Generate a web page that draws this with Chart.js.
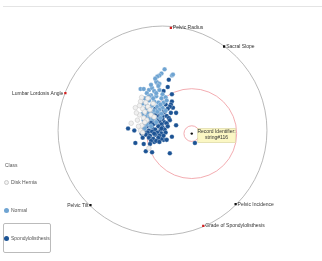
<!DOCTYPE html>
<html lang="en">
<head>
    <meta charset="UTF-8">
    <title>RadViz - vertebral column</title>
    <style>
        body {
            margin: 0;
            padding: 0;
            background: #fff;
            font-family: Arial, "Liberation Sans", sans-serif;
        }
        #wrap {
            position: relative;
            width: 322px;
            height: 261px;
            overflow: hidden;
        }
        #topline {
            position: absolute;
            left: 3px;
            right: 0;
            top: 6px;
            height: 1px;
            background: #e4e4e4;
        }
        .legend-title {
            position: absolute;
            left: 5px;
            top: 162px;
            font-size: 5px;
            color: #555;
        }
        .legend-item {
            position: absolute;
            left: 4px;
            height: 8px;
            font-size: 5px;
            line-height: 8px;
            color: #555;
            white-space: nowrap;
        }
        .legend-item .dot {
            display: inline-block;
            width: 5px;
            height: 5px;
            border-radius: 50%;
            vertical-align: middle;
            margin-right: 2px;
            box-sizing: border-box;
        }
        .legend-item.active {
            border: 1px solid #bbb;
            border-radius: 2px;
            width: 46px;
            height: 28px;
            line-height: 28px;
            left: 3px;
        }
    </style>
    <script src="https://cdn.jsdelivr.net/npm/chart.js"></script>
</head>
<body>
<div id="wrap">
    <div id="topline"></div>
    <canvas id="radviz" width="322" height="261"></canvas>
    <div class="legend-title">Class</div>
    <div class="legend-item" style="top:178px"><span class="dot" style="background:#f2f2f2;border:0.6px solid #c8c8c8"></span>Disk Hernia</div>
    <div class="legend-item" style="top:206px"><span class="dot" style="background:#6fa4d2"></span>Normal</div>
    <div class="legend-item active" style="top:223px"><span class="dot" style="background:#1c5394"></span>Spondylolisthesis</div>
</div>
<script>
    // dimension anchors on the unit circle
    const anchorNames = ['Pelvic Radius', 'Sacral Slope', 'Lumbar Lordosis Angle', 'Pelvic Tilt', 'Pelvic Incidence', 'Grade of Spondylolisthesis'];
    const anchorX = [0.08, 0.59, -0.93, -0.69, 0.70, 0.39];
    const anchorY = [0.99, 0.81, 0.36, -0.72, -0.71, -0.92];
    const anchorColors = ['#d42020', '#111111', '#d42020', '#111111', '#111111', '#d42020'];

    // projected records, one pair of arrays per class
    const herniaX = [-0.26, -0.30, -0.13, -0.21, -0.22, -0.19, -0.24, -0.20, -0.17, -0.14, -0.21, -0.16, -0.18, -0.23, -0.19, -0.12, -0.09, -0.15, -0.20, -0.14, -0.11, -0.25, -0.08, -0.17, -0.22];
    const herniaY = [0.22, 0.07, -0.17, 0.00, 0.15, 0.21, 0.10, 0.05, 0.18, 0.23, 0.28, 0.27, 0.12, 0.04, -0.02, 0.20, 0.26, 0.10, 0.32, 0.31, 0.15, 0.17, 0.13, 0.08, 0.24];

    const normalX = [0.02, -0.01, -0.03, -0.05, 0.09, 0.10, -0.06, -0.03, -0.21, -0.18, -0.13, -0.10, -0.11, -0.07,
        -0.08, -0.03, 0.00, -0.15, -0.11, -0.06, -0.01, 0.03,
        -0.17, -0.13, -0.08, -0.04, 0.01,
        -0.19, -0.15, -0.10, -0.05, 0.00, 0.04,
        -0.17, -0.12, -0.08, -0.03, 0.03,
        -0.19, -0.14, -0.10, -0.05, -0.01,
        -0.16, -0.12, -0.07, -0.02,
        -0.18, -0.13, -0.09, -0.15, -0.11, -0.06, -0.17,
        -0.09, -0.13, -0.02, -0.06, -0.16, -0.04];
    const normalY = [0.59, 0.55, 0.53, 0.52, 0.53, 0.54, 0.47, 0.45, 0.40, 0.40, 0.39, 0.41, 0.44, 0.50,
        0.38, 0.39, 0.35, 0.36, 0.34, 0.33, 0.31, 0.32,
        0.31, 0.29, 0.28, 0.27, 0.27,
        0.26, 0.24, 0.24, 0.23, 0.22, 0.29,
        0.20, 0.21, 0.19, 0.20, 0.19,
        0.16, 0.17, 0.16, 0.18, 0.16,
        0.13, 0.14, 0.12, 0.12,
        0.10, 0.11, 0.11, 0.06, 0.04, 0.08, 0.02,
        0.31, 0.33, 0.25, 0.36, 0.21, 0.43];

    const spondyloX = [0.06, -0.05, 0.01, 0.05, 0.09, 0.09, 0.10, 0.13, 0.08, -0.33, -0.27, -0.16, -0.26, -0.18, -0.10, -0.16, 0.07, 0.13, 0.01, 0.09, 0.31, -0.08, -0.01,
        -0.02, 0.03, 0.07,
        -0.07, 0.01, 0.05,
        -0.12, -0.04, 0.02, 0.08,
        -0.14, -0.09, -0.02, 0.04,
        -0.16, -0.11, -0.05, 0.00, 0.06,
        -0.13, -0.08, -0.03, 0.02, 0.07,
        -0.17, -0.12, -0.06, -0.01, 0.04,
        -0.15, -0.10, -0.04, 0.00, 0.05,
        -0.18, -0.13, -0.07, -0.02, 0.02,
        -0.14, -0.10, -0.05, -0.01, 0.03,
        -0.16, -0.12, -0.07, -0.03, 0.01,
        -0.13, -0.09, -0.04,
        -0.11, -0.06,
        -0.09, -0.05, -0.11, 0.00, -0.07, -0.01, -0.08, -0.15,
        -0.20, -0.19, -0.03, 0.04, -0.12];
    const spondyloY = [0.49, 0.46, 0.38, 0.42, 0.35, 0.28, 0.22, 0.17, 0.25, 0.02, 0.00, -0.01, -0.12, -0.13, -0.21, -0.20, -0.22, 0.05, -0.09, -0.06, -0.12, -0.11, -0.08,
        0.24, 0.25, 0.23,
        0.21, 0.20, 0.21,
        0.18, 0.17, 0.18, 0.17,
        0.15, 0.14, 0.15, 0.14,
        0.12, 0.12, 0.13, 0.11, 0.12,
        0.09, 0.10, 0.09, 0.08, 0.10,
        0.07, 0.06, 0.07, 0.06, 0.07,
        0.04, 0.03, 0.04, 0.03, 0.04,
        0.01, 0.00, 0.01, 0.00, 0.01,
        -0.02, -0.01, -0.02, -0.03, -0.02,
        -0.04, -0.05, -0.04, -0.05, -0.05,
        -0.07, -0.08, -0.07,
        -0.10, -0.10,
        0.06, 0.10, 0.09, 0.14, 0.16, 0.02, -0.03, 0.08,
        -0.03, -0.07, -0.11, -0.09, -0.13];

    // highlighted record and its neighbourhood
    const recordX = [0.28];
    const recordY = [-0.03];
    const recordLabel = ['Record Identifier:', 'string#116'];
    const neighbourRadii = [0.075, 0.43];

    function toPoints(xs, ys) {
        return xs.map((x, i) => ({ x: x, y: ys[i] }));
    }

    const radvizPlugin = {
        id: 'radviz',
        beforeDatasetsDraw(chart) {
            const ctx = chart.ctx;
            const sx = chart.scales.x, sy = chart.scales.y;
            const cx = sx.getPixelForValue(0), cy = sy.getPixelForValue(0);
            const r = sx.getPixelForValue(1) - cx;
            ctx.save();
            ctx.strokeStyle = '#a8a8a8';
            ctx.lineWidth = 0.8;
            ctx.beginPath();
            ctx.arc(cx, cy, r, 0, Math.PI * 2);
            ctx.stroke();

            const rx = sx.getPixelForValue(recordX[0]), ry = sy.getPixelForValue(recordY[0]);
            ctx.strokeStyle = '#f2a3a8';
            ctx.lineWidth = 0.9;
            neighbourRadii.forEach(nr => {
                ctx.beginPath();
                ctx.arc(rx, ry, sx.getPixelForValue(nr) - cx, 0, Math.PI * 2);
                ctx.stroke();
            });
            ctx.restore();
        },
        afterDatasetsDraw(chart) {
            const ctx = chart.ctx;
            const sx = chart.scales.x, sy = chart.scales.y;
            ctx.save();
            ctx.font = '5px Arial, "Liberation Sans", sans-serif';
            ctx.fillStyle = '#333';
            ctx.textBaseline = 'middle';
            anchorNames.forEach((name, i) => {
                const px = sx.getPixelForValue(anchorX[i]);
                const py = sy.getPixelForValue(anchorY[i]);
                if (anchorX[i] < 0) {
                    ctx.textAlign = 'right';
                    ctx.fillText(name, px - 2, py);
                } else {
                    ctx.textAlign = 'left';
                    ctx.fillText(name, px + 2, py);
                }
            });

            // tooltip box next to the record
            const rx = sx.getPixelForValue(recordX[0]), ry = sy.getPixelForValue(recordY[0]);
            const bx = rx + 6, by = ry - 5, bw = 37.5, bh = 14;
            ctx.fillStyle = '#fbf7c4';
            ctx.strokeStyle = '#d8d29a';
            ctx.lineWidth = 0.6;
            ctx.fillRect(bx, by, bw, bh);
            ctx.strokeRect(bx, by, bw, bh);
            ctx.fillStyle = '#333';
            ctx.textAlign = 'center';
            ctx.fillText(recordLabel[0], bx + bw / 2, by + 3.5);
            ctx.fillText(recordLabel[1], bx + bw / 2, by + 9);
            ctx.restore();
        }
    };

    new Chart(document.getElementById('radviz'), {
        type: 'scatter',
        data: {
            datasets: [
                {
                    label: 'Record',
                    data: toPoints(recordX, recordY),
                    backgroundColor: '#111',
                    borderWidth: 0,
                    pointRadius: 1.2
                },
                {
                    label: 'Anchors',
                    data: toPoints(anchorX, anchorY),
                    pointStyle: 'rect',
                    backgroundColor: anchorColors,
                    borderWidth: 0,
                    pointRadius: 1.6
                },
                {
                    label: 'Disk Hernia',
                    data: toPoints(herniaX, herniaY),
                    backgroundColor: '#f0f0f0',
                    borderColor: '#c9c9c9',
                    borderWidth: 0.6,
                    pointRadius: 2.3
                },
                {
                    label: 'Normal',
                    data: toPoints(normalX, normalY),
                    backgroundColor: '#6fa4d2',
                    borderColor: 'rgba(255,255,255,0.55)',
                    borderWidth: 0.5,
                    pointRadius: 2.3
                },
                {
                    label: 'Spondylolisthesis',
                    data: toPoints(spondyloX, spondyloY),
                    backgroundColor: '#1c5394',
                    borderColor: 'rgba(255,255,255,0.5)',
                    borderWidth: 0.5,
                    pointRadius: 2.3
                }
            ]
        },
        options: {
            responsive: false,
            animation: false,
            layout: { padding: 0 },
            plugins: {
                legend: { display: false },
                tooltip: { enabled: false }
            },
            scales: {
                x: { type: 'linear', display: false, min: -1.512, max: 1.483 },
                y: { type: 'linear', display: false, min: -1.214, max: 1.214 }
            }
        },
        plugins: [radvizPlugin]
    });
</script>
</body>
</html>
